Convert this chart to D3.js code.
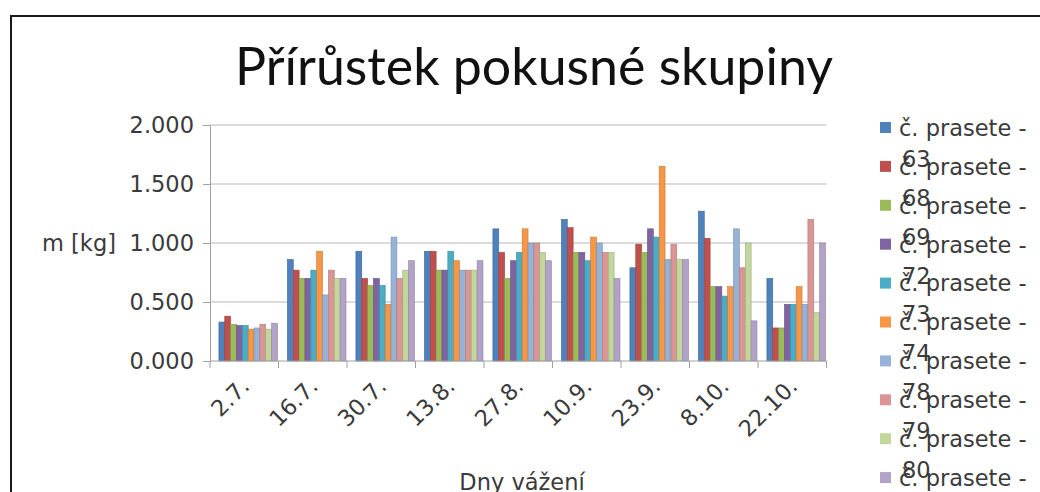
<!DOCTYPE html>
<html>
<head>
<meta charset="utf-8">
<script src="https://cdn.jsdelivr.net/npm/d3@7"></script>
<style>
  html, body { margin: 0; padding: 0; background: #fff; overflow: hidden; }
  svg { display: block; }
</style>
</head>
<body>
<svg id="chart" width="1040" height="492"></svg>
<script>
// ---- data ----
const categories = ["2.7.", "16.7.", "30.7.", "13.8.", "27.8.", "10.9.", "23.9.", "8.10.", "22.10."];
const seriesNames = ["č. prasete - 63", "č. prasete - 68", "č. prasete - 69", "č. prasete - 72", "č. prasete - 73",
                     "č. prasete - 74", "č. prasete - 78", "č. prasete - 79", "č. prasete - 80", "č. prasete - 81"];
const s63 = [0.33, 0.86, 0.93, 0.93, 1.12, 1.20, 0.79, 1.27, 0.70];
const s68 = [0.38, 0.77, 0.70, 0.93, 0.92, 1.13, 0.99, 1.04, 0.28];
const s69 = [0.31, 0.70, 0.64, 0.77, 0.70, 0.92, 0.92, 0.63, 0.28];
const s72 = [0.30, 0.70, 0.70, 0.77, 0.85, 0.92, 1.12, 0.63, 0.48];
const s73 = [0.30, 0.77, 0.64, 0.93, 0.92, 0.85, 1.05, 0.55, 0.48];
const s74 = [0.27, 0.93, 0.48, 0.85, 1.12, 1.05, 1.65, 0.63, 0.63];
const s78 = [0.28, 0.56, 1.05, 0.77, 1.00, 1.00, 0.86, 1.12, 0.48];
const s79 = [0.31, 0.77, 0.70, 0.77, 1.00, 0.92, 0.99, 0.79, 1.20];
const s80 = [0.27, 0.70, 0.77, 0.77, 0.92, 0.92, 0.86, 1.00, 0.41];
const s81 = [0.32, 0.70, 0.85, 0.85, 0.85, 0.70, 0.86, 0.34, 1.00];
const seriesValues = [s63, s68, s69, s72, s73, s74, s78, s79, s80, s81];
const yTickValues = [0, 0.5, 1, 1.5, 2];
const yTickLabels = ["0.000", "0.500", "1.000", "1.500", "2.000"];
const colors = ["#4F81BD", "#C0504D", "#9BBB59", "#8064A2", "#4BACC6", "#F79646",
                "#95B3D7", "#D99694", "#C3D69B", "#B3A2C7"];
const titleText = "Přírůstek pokusné skupiny";
const yTitle = "m [kg]";
const xTitle = "Dny vážení";

// ---- layout ----
const svg = d3.select("#chart");
const plot = { left: 210, right: 826.5, top: 125, bottom: 361 };
const textColor = "#3a3a3a";
const font = "'DejaVu Sans', Verdana, sans-serif";
const fs = 22.5;

// outer frame (extends beyond the visible picture on right/bottom)
svg.append("rect")
  .attr("x", 11).attr("y", 16).attr("width", 1100).attr("height", 600)
  .attr("fill", "#fff").attr("stroke", "#1a1a1a").attr("stroke-width", 2);

// title
const title = svg.append("text")
  .attr("x", 534).attr("y", 85)
  .attr("text-anchor", "middle")
  .attr("font-family", "Lato, 'Open Sans', sans-serif")
  .attr("font-size", 48)
  .attr("fill", "#111")
  .text(titleText);
const tw = title.node().getComputedTextLength();
title.attr("font-size", 48 * 598 / tw);

// scales
const x = d3.scaleBand().domain(categories).range([plot.left, plot.right]).padding(0);
const step = x.step();
const xInner = d3.scaleBand().domain(d3.range(seriesNames.length))
  .range([step * 0.13, step * 0.985]).padding(0);
const y = d3.scaleLinear().domain([0, 2]).range([plot.bottom, plot.top]);

// gridlines
svg.append("g").selectAll("line").data(yTickValues.filter(v => v > 0)).join("line")
  .attr("x1", plot.left).attr("x2", plot.right)
  .attr("y1", d => y(d)).attr("y2", d => y(d))
  .attr("stroke", "#b8b8b8").attr("stroke-width", 1.2);

// bars
const rows = categories.map((c, i) => ({ cat: c, vals: seriesValues.map(s => s[i]) }));
const groups = svg.append("g").selectAll("g").data(rows).join("g")
  .attr("transform", d => `translate(${x(d.cat)},0)`);
groups.selectAll("rect").data(d => d.vals.map((v, k) => ({ v, k }))).join("rect")
  .attr("x", d => xInner(d.k))
  .attr("width", xInner.bandwidth())
  .attr("y", d => y(d.v))
  .attr("height", d => y(0) - y(d.v))
  .attr("fill", d => colors[d.k])
  .attr("stroke", d => d3.color(colors[d.k]).darker(0.6))
  .attr("stroke-width", 0.6);

// y axis
const yAxis = d3.axisLeft(y).tickValues(yTickValues)
  .tickFormat((d, i) => yTickLabels[i]).tickSize(7).tickPadding(9);
const gy = svg.append("g").attr("transform", `translate(${plot.left},0)`).call(yAxis);
gy.select(".domain").attr("stroke", "#a0a0a0");
gy.selectAll(".tick line").attr("stroke", "#a0a0a0");
gy.selectAll(".tick text").attr("font-family", font).attr("font-size", fs).attr("fill", textColor);

// x axis
const gx = svg.append("g").attr("transform", `translate(0,${plot.bottom})`);
gx.append("line").attr("x1", plot.left).attr("x2", plot.right).attr("stroke", "#a0a0a0");
gx.selectAll("line.t").data(d3.range(categories.length + 1)).join("line").attr("class", "t")
  .attr("x1", i => plot.left + i * step).attr("x2", i => plot.left + i * step)
  .attr("y1", 0).attr("y2", 7).attr("stroke", "#a0a0a0");
gx.selectAll("text").data(categories).join("text")
  .attr("transform", d => `translate(${x(d) + step / 2 + 1},${21}) rotate(-45)`)
  .attr("text-anchor", "end")
  .attr("dy", "0.35em")
  .attr("font-family", font).attr("font-size", fs).attr("fill", textColor)
  .text(d => d);

// axis titles
svg.append("text").attr("x", 79).attr("y", y(1)).attr("dy", "0.35em")
  .attr("text-anchor", "middle").attr("font-family", font).attr("font-size", fs)
  .attr("fill", textColor).text(yTitle);
svg.append("text").attr("x", 522).attr("y", 490)
  .attr("text-anchor", "middle").attr("font-family", font).attr("font-size", fs)
  .attr("fill", textColor).text(xTitle);

// legend
const lg = svg.append("g").attr("transform", "translate(880,128)");
const items = lg.selectAll("g").data(seriesNames).join("g")
  .attr("transform", (d, i) => `translate(0,${i * 38.9})`);
items.append("rect").attr("x", 0).attr("y", -6).attr("width", 11).attr("height", 11)
  .attr("fill", (d, i) => colors[i]);
items.each(function (d) {
  const parts = d.split(" - ");
  const t = d3.select(this).append("text")
    .attr("x", 19).attr("y", 0).attr("dy", "0.35em")
    .attr("font-family", font).attr("font-size", fs).attr("fill", textColor);
  t.append("tspan").attr("x", 19).text(parts[0] + " -");
  t.append("tspan").attr("x", 22).attr("dy", 31).text(parts[1]);
});
</script>
</body>
</html>
